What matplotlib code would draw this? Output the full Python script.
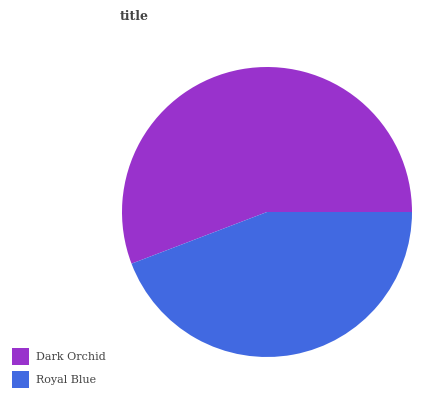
import matplotlib
matplotlib.use("Agg")
import matplotlib.pyplot as plt
from matplotlib.patches import Patch

labels = ["Dark Orchid", "Royal Blue"]
values = [55.8, 44.2]
colors = ["#9932CC", "#4169E1"]

plt.rcParams['font.family'] = ['DejaVu Serif']
fig = plt.figure(figsize=(4.25, 4.0), dpi=100)
ax = fig.add_axes([(267 - 145) / 425, (400 - 357) / 400, 290 / 425, 290 / 400])
ax.pie(values, colors=colors, startangle=0, counterclock=True,
       wedgeprops=dict(linewidth=0))
ax.set_aspect('equal')
ax.set_xlim(-1, 1)
ax.set_ylim(-1, 1)
ax.axis('off')

fig.text(134 / 425, 1 - 17 / 400, "title", ha='center', va='center',
         fontsize=9, fontweight='bold', color='#444444')

handles = [Patch(facecolor=c, edgecolor='none') for c in colors]
leg = fig.legend(handles, labels, loc='lower left', bbox_to_anchor=(0.018, 0.019),
                 frameon=False, fontsize=8, handlelength=1.53, handleheight=1.98,
                 handletextpad=0.63, labelspacing=0.5, labelcolor='#444444',
                 borderaxespad=0)
fig.savefig("out.png", dpi=100)
